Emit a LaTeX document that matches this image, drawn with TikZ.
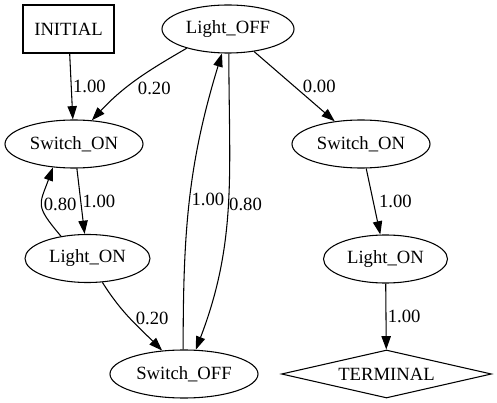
\documentclass[tikz,border=0pt]{standalone}
\usepackage{fontspec}
\setmainfont{Liberation Serif}
\usetikzlibrary{shapes.geometric,arrows.meta,positioning}

\begin{document}
\begin{tikzpicture}[
  x=0.75pt, y=-0.75pt,
  state/.style={ellipse, draw, thick, minimum height=36pt, inner sep=0pt, font=\fontsize{14}{16}\selectfont},
  startbox/.style={rectangle, draw, thick, minimum width=68.25pt, minimum height=36pt, inner sep=0pt, font=\fontsize{14}{16}\selectfont},
  final/.style={diamond, draw, thick, aspect=4.4, minimum width=157.5pt, minimum height=36pt, inner sep=0pt, font=\fontsize{14}{16}\selectfont},
  arrow/.style={-{Triangle[length=10pt, width=7pt]}, thick},
  prob/.style={font=\fontsize{14}{16}\selectfont, inner sep=1pt}
]
\useasboundingbox (0,0) rectangle (497,403);
\node[startbox] (init) at (68.5,29) {INITIAL};
\node[state, minimum width=99pt] (loff) at (228,29) {Light\_OFF};
\node[state, minimum width=103.5pt] (son1) at (74,144) {Switch\_ON};
\node[state, minimum width=93.75pt] (lon1) at (87.5,258.5) {Light\_ON};
\node[state, minimum width=111pt] (soff) at (184,374) {Switch\_OFF};
\node[state, minimum width=103.5pt] (son2) at (361,144) {Switch\_ON};
\node[state, minimum width=93pt] (lon2) at (385.5,259) {Light\_ON};
\node[final] (term) at (386.5,374) {TERMINAL};
\draw[arrow] (init) -- node[prob, right] {1.00} (son1);
\draw[arrow] (loff.205) to[out=210, in=47] node[prob, below right] {0.20} (son1.53);
\draw[arrow] (loff) -- node[prob, right=5pt] {0.00} (son2);
\draw[arrow] (son1) -- node[prob, right] {1.00} (lon1);
\draw[arrow] (lon1.140) to[out=130, in=250, looseness=1.5] node[prob, right] {0.80} (son1.228);
\draw[arrow] (lon1.302) to[out=-58, in=135] node[prob, right=3pt] {0.20} (soff.133);
\draw[arrow] (soff.92) to[out=90, in=253] node[prob, right] {1.00} (loff.256);
\draw[arrow] (loff.272) to[out=270, in=69] node[prob, right, inner sep=0.5pt] {0.80} (soff.64);
\draw[arrow] (son2) -- node[prob, right=3pt] {1.00} (lon2);
\draw[arrow] (lon2) -- node[prob, right] {1.00} (term);
\end{tikzpicture}
\end{document}
